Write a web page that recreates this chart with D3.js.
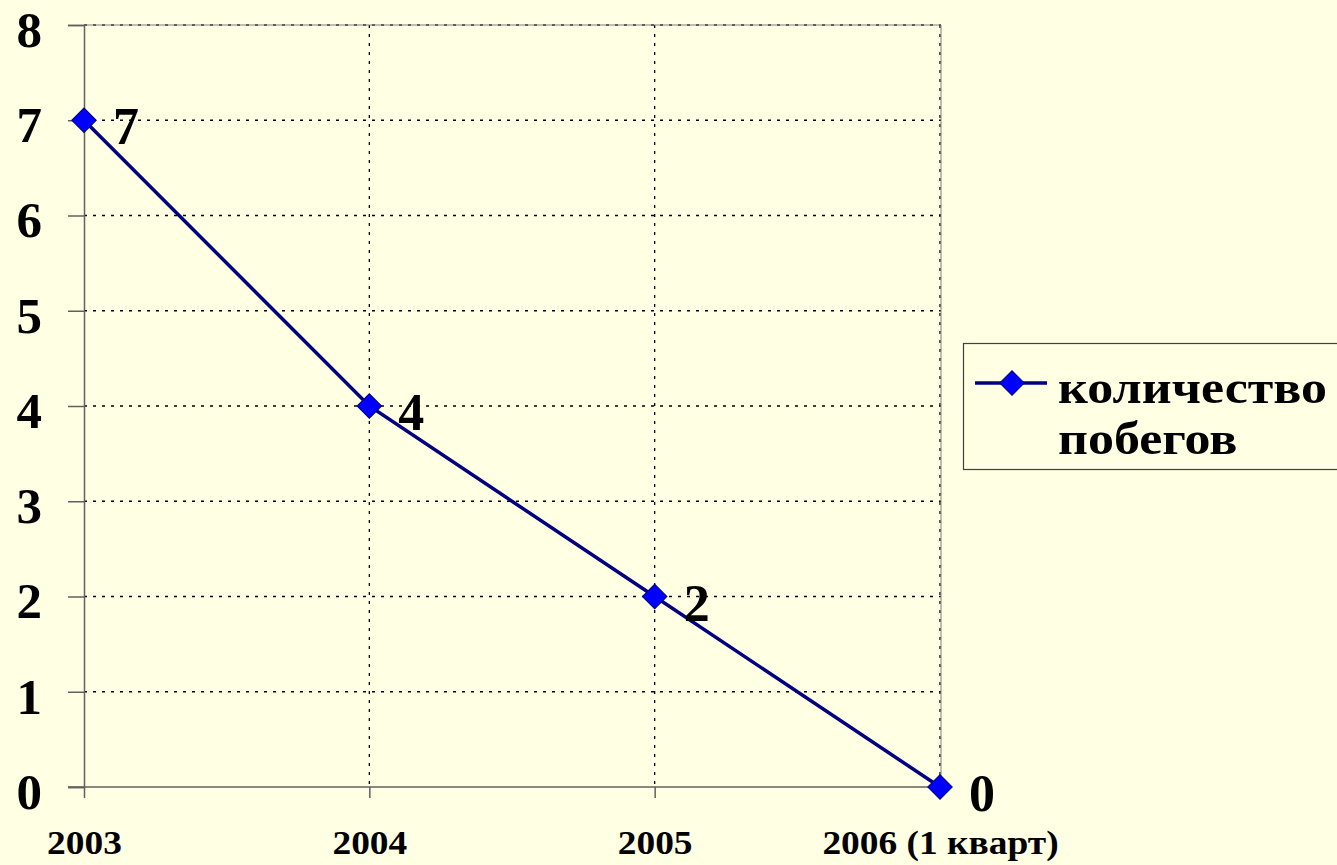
<!DOCTYPE html>
<html lang="ru">
<head>
  <meta charset="UTF-8">
  <title>количество побегов</title>
  <script src="https://d3js.org/d3.v7.min.js"></script>
  <style>
    body { margin: 0; padding: 0; background: #FFFFE3; }
    svg { display: block; }
    text { font-family: "Liberation Serif", "Times New Roman", serif; font-weight: bold; fill: #000; }
  </style>
</head>
<body>
  <div id="chart"></div>

  <script>
    const width = 1337;
    const height = 865;

    const categories = ["2003", "2004", "2005", "2006 (1 кварт)"];
    const escapes = [7, 4, 2, 0];
    const yTicks = [0, 1, 2, 3, 4, 5, 6, 7, 8];
    const seriesName = ["количество", "побегов"];

    const plot = { left: 84, right: 941, top: 25, bottom: 787 };

    const svg = d3.select("#chart")
      .append("svg")
      .attr("width", width)
      .attr("height", height);

    svg.append("rect")
      .attr("width", width)
      .attr("height", height)
      .attr("fill", "#FFFFE3");

    const x = d3.scalePoint()
      .domain(categories)
      .range([plot.left, plot.right - 1]);

    const y = d3.scaleLinear()
      .domain([0, 8])
      .range([plot.bottom, plot.top]);

    // dotted grid
    const grid = svg.append("g");
    grid.selectAll("line.h")
      .data(yTicks.filter(d => d > 0))
      .enter()
      .append("line")
      .attr("x1", plot.left).attr("x2", plot.right)
      .attr("y1", d => y(d)).attr("y2", d => y(d))
      .attr("stroke", "#000")
      .attr("stroke-width", 1.3)
      .attr("stroke-dasharray", "3,6");
    grid.selectAll("line.v")
      .data(categories.slice(1))
      .enter()
      .append("line")
      .attr("x1", d => x(d)).attr("x2", d => x(d))
      .attr("y1", plot.top).attr("y2", plot.bottom)
      .attr("stroke", "#000")
      .attr("stroke-width", 1.3)
      .attr("stroke-dasharray", "3,6");

    // plot border top / right
    svg.append("path")
      .attr("d", `M${plot.left},${plot.top}H${plot.right}V${plot.bottom}`)
      .attr("fill", "none")
      .attr("stroke", "#808080")
      .attr("stroke-width", 1);

    // y axis
    const yAxis = svg.append("g")
      .attr("transform", `translate(${plot.left},0)`)
      .call(d3.axisLeft(y).tickValues(yTicks).tickSize(16).tickPadding(26).tickFormat(d3.format("d")));
    yAxis.select(".domain").attr("stroke", "#606060").attr("stroke-width", 1.5);
    yAxis.selectAll(".tick line").attr("stroke", "#606060").attr("stroke-width", 1.5);
    yAxis.selectAll(".tick text")
      .attr("font-size", 51)
      .attr("dy", "0.42em")
      .style("font-family", "'Liberation Serif', serif")
      .style("font-weight", "bold");

    // x axis
    const xAxis = svg.append("g")
      .attr("transform", `translate(0,${plot.bottom})`)
      .call(d3.axisBottom(x).tickSize(11).tickPadding(32));
    xAxis.select(".domain").attr("stroke", "#606060").attr("stroke-width", 1.5)
      .attr("d", `M${plot.left - 16},0H${plot.right}`);
    xAxis.selectAll(".tick line").attr("stroke", "#606060").attr("stroke-width", 1.5);
    xAxis.selectAll(".tick text")
      .attr("font-size", 34)
      .attr("dy", "0.71em")
      .attr("transform", "scale(1.1,1)")
      .style("font-family", "'Liberation Serif', serif")
      .style("font-weight", "bold");
    xAxis.select(".domain").raise();

    // series line
    const line = d3.line()
      .x((d, i) => x(categories[i]))
      .y(d => y(d));

    svg.append("path")
      .datum(escapes)
      .attr("d", line)
      .attr("fill", "none")
      .attr("stroke", "#000080")
      .attr("stroke-width", 3.5);

    const diamond = d3.symbol().type(d3.symbolSquare).size(300);

    svg.selectAll("path.marker")
      .data(escapes)
      .enter()
      .append("path")
      .attr("class", "marker")
      .attr("d", diamond)
      .attr("transform", (d, i) => `translate(${x(categories[i])},${y(d)}) rotate(45)`)
      .attr("fill", "#0000FF")
      .attr("stroke", "#000080")
      .attr("stroke-width", 1);

    // data labels
    svg.selectAll("text.value")
      .data(escapes)
      .enter()
      .append("text")
      .attr("class", "value")
      .attr("x", (d, i) => x(categories[i]) + 29)
      .attr("y", d => y(d) + 24)
      .attr("font-size", 52)
      .text(d => d);

    // legend
    const legend = svg.append("g");
    legend.append("rect")
      .attr("x", 963.5).attr("y", 343.5)
      .attr("width", 390).attr("height", 126)
      .attr("fill", "#FFFFE3")
      .attr("stroke", "#404040")
      .attr("stroke-width", 1.2);
    legend.append("line")
      .attr("x1", 975).attr("x2", 1047)
      .attr("y1", 383).attr("y2", 383)
      .attr("stroke", "#000080")
      .attr("stroke-width", 3.5);
    legend.append("path")
      .attr("d", diamond)
      .attr("transform", "translate(1012,383) rotate(45)")
      .attr("fill", "#0000FF")
      .attr("stroke", "#000080")
      .attr("stroke-width", 1);
    legend.selectAll("text")
      .data(seriesName)
      .enter()
      .append("text")
      .attr("transform", (d, i) => `translate(1058,${403 + i * 51}) scale(1.13,1)`)
      .attr("font-size", 46)
      .text(d => d);
  </script>
</body>
</html>
